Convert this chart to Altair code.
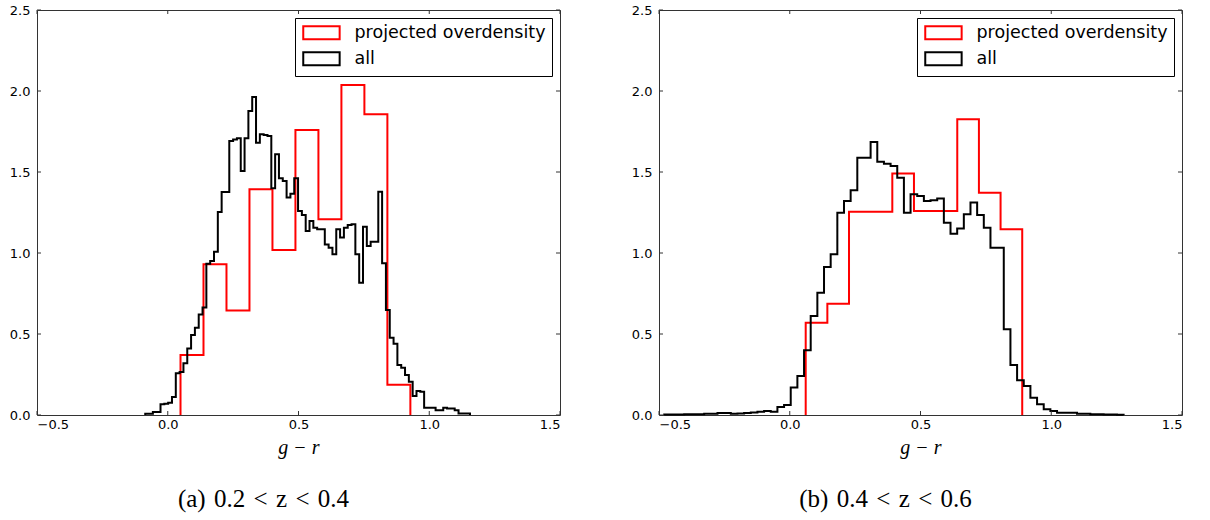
import altair as alt
import pandas as pd

# ---------------- data ----------------
series_names = ["projected overdensity", "all"]
series_colors = ["#ff0000", "#000000"]

x_ticks = [-0.5, 0.0, 0.5, 1.0, 1.5]
y_ticks = [0.0, 0.5, 1.0, 1.5, 2.0, 2.5]

# panel (a) 0.2 < z < 0.4
a_red_start = 0.0488
a_red_width = 0.0879
a_red = [0.37, 0.93, 0.645, 1.393, 1.018, 1.759, 1.208, 2.037, 1.856, 0.187]

a_all_start = -0.0861
a_all_width = 0.01461
a_all = [0.008, 0.008, 0.018, 0.018, 0.066, 0.07, 0.076, 0.111, 0.257, 0.265,
         0.319, 0.41, 0.494, 0.539, 0.621, 0.663, 0.934, 0.95, 1.008, 1.253,
         1.377, 1.377, 1.691, 1.70, 1.708, 1.506, 1.708, 1.877, 1.963, 1.681,
         1.733, 1.728, 1.722, 1.40, 1.609, 1.461, 1.444, 1.342, 1.366, 1.461,
         1.259, 1.235, 1.136, 1.198, 1.156, 1.146, 1.146, 1.053, 1.033, 0.992,
         1.146, 1.095, 1.156, 1.173, 1.177, 0.992, 0.817, 1.162, 1.043, 1.07,
         1.07, 1.378, 0.936, 0.648, 0.477, 0.44, 0.309, 0.292, 0.247, 0.206,
         0.117, 0.148, 0.144, 0.045, 0.045, 0.045, 0.029, 0.029, 0.045, 0.04,
         0.04, 0.03, 0.01, 0.01, 0.01]

# panel (b) 0.4 < z < 0.6
b_red_start = 0.061
b_red_width = 0.0828
b_red = [0.57, 0.687, 1.255, 1.255, 1.49, 1.259, 1.259, 1.825, 1.372, 1.146]

b_all_start = -0.480
b_all_width = 0.02546
b_all = [0.003, 0.003, 0.003, 0.005, 0.005, 0.005, 0.008, 0.008, 0.012, 0.012,
         0.008, 0.01, 0.012, 0.015, 0.02, 0.025, 0.02, 0.049, 0.062,
         0.169, 0.241, 0.399, 0.611, 0.755, 0.914, 0.992, 1.249, 1.321, 1.387,
         1.588, 1.588, 1.685, 1.564, 1.551, 1.537, 1.465, 1.249, 1.362, 1.352,
         1.321, 1.325, 1.337, 1.187, 1.119, 1.152, 1.239, 1.311, 1.235, 1.156,
         1.033, 1.033, 0.529, 0.309, 0.214, 0.179, 0.107, 0.066, 0.035, 0.025,
         0.014, 0.014, 0.014, 0.008, 0.008, 0.004, 0.004, 0.003, 0.003, 0.002]

captions = ["(a)\u20040.2\u2004<\u2004z\u2004<\u20040.4", "(b)\u20040.4\u2004<\u2004z\u2004<\u20040.6"]

# ---------------- helpers ----------------
W, H = 523, 405


def step_table(start, width, heights, name):
    n = len(heights)
    rows = [{"x": start, "y": 0.0, "o": 0}]
    for i, h in enumerate(heights):
        rows.append({"x": start + i * width, "y": h, "o": i + 1})
    rows.append({"x": start + n * width, "y": 0.0, "o": n + 1})
    df = pd.DataFrame(rows)
    df["series"] = name
    return df


def panel(red_df, all_df, caption):
    xscale = alt.Scale(domain=[-0.5, 1.5], nice=False, zero=False)
    yscale = alt.Scale(domain=[0, 2.5], nice=False, zero=False)
    x_axis = alt.Axis(values=x_ticks, format=".1f", title="g − r",
                      labelPadding=3, titlePadding=6)
    y_axis = alt.Axis(values=y_ticks, format=".1f", title=None, labelPadding=7)
    x_enc = alt.X("x:Q", scale=xscale, axis=x_axis, title="g − r")
    y_enc = alt.Y("y:Q", scale=yscale, axis=y_axis, title=None)
    color = alt.Color(
        "series:N",
        scale=alt.Scale(domain=series_names, range=series_colors),
        legend=alt.Legend(
            title=None, orient="top-right", offset=8,
            strokeColor="#000000", fillColor="#ffffff", padding=6,
            symbolType="M-1,-1H4.6V1H-1Z", symbolSize=169,
            symbolStrokeWidth=2, symbolFillColor="#ffffff",
            labelFont="DejaVu Sans", labelFontSize=17.5, labelColor="#000000",
            labelOffset=36, labelLimit=400, rowPadding=4, cornerRadius=0,
        ),
    )
    red = alt.Chart(red_df).mark_line(interpolate="step-after", strokeWidth=2).encode(
        x=x_enc, y=y_enc, color=color, order="o:Q")
    black = alt.Chart(all_df).mark_line(interpolate="step-after", strokeWidth=2).encode(
        x=x_enc, y=y_enc, color=color, order="o:Q")

    xt = pd.DataFrame({"v": x_ticks})
    yt = pd.DataFrame({"v": y_ticks})
    tick_style = dict(color="#333333", strokeWidth=1)
    xb = alt.Chart(xt).mark_rule(**tick_style).encode(
        x=alt.X("v:Q", scale=xscale, axis=x_axis, title="g − r"),
        y=alt.value(H), y2=alt.value(H - 4))
    xtp = alt.Chart(xt).mark_rule(**tick_style).encode(
        x=alt.X("v:Q", scale=xscale, axis=x_axis, title="g − r"),
        y=alt.value(0), y2=alt.value(4))
    yl = alt.Chart(yt).mark_rule(**tick_style).encode(
        y=alt.Y("v:Q", scale=yscale, axis=y_axis, title=None),
        x=alt.value(0), x2=alt.value(4))
    yr = alt.Chart(yt).mark_rule(**tick_style).encode(
        y=alt.Y("v:Q", scale=yscale, axis=y_axis, title=None),
        x=alt.value(W - 4), x2=alt.value(W))

    return alt.layer(red, black, xb, xtp, yl, yr).properties(
        width=W, height=H,
        title=alt.TitleParams(
            caption, orient="bottom", anchor="middle", dx=-35, offset=30,
            font="Liberation Serif", fontSize=25, fontWeight="normal", color="#000000"),
    )


left = panel(step_table(a_red_start, a_red_width, a_red, series_names[0]),
             step_table(a_all_start, a_all_width, a_all, series_names[1]),
             captions[0])
right = panel(step_table(b_red_start, b_red_width, b_red, series_names[0]),
              step_table(b_all_start, b_all_width, b_all, series_names[1]),
              captions[1])

chart = (
    alt.hconcat(left, right, spacing=69)
    .resolve_scale(color="independent")
    .resolve_legend(color="independent")
    .properties(padding={"left": 8, "top": 3, "right": 0, "bottom": 0},
                background="#ffffff")
    .configure_view(stroke="#333333", strokeWidth=1)
    .configure_axis(
        domain=False, ticks=False, grid=False,
        labelFont="DejaVu Sans", labelFontSize=13, labelColor="#000000",
        titleFont="Liberation Serif", titleFontSize=20, titleFontStyle="italic",
        titleFontWeight="normal", titleColor="#000000",
    )
)

chart.save("out.html", embed_options={"renderer": "svg", "actions": False})
